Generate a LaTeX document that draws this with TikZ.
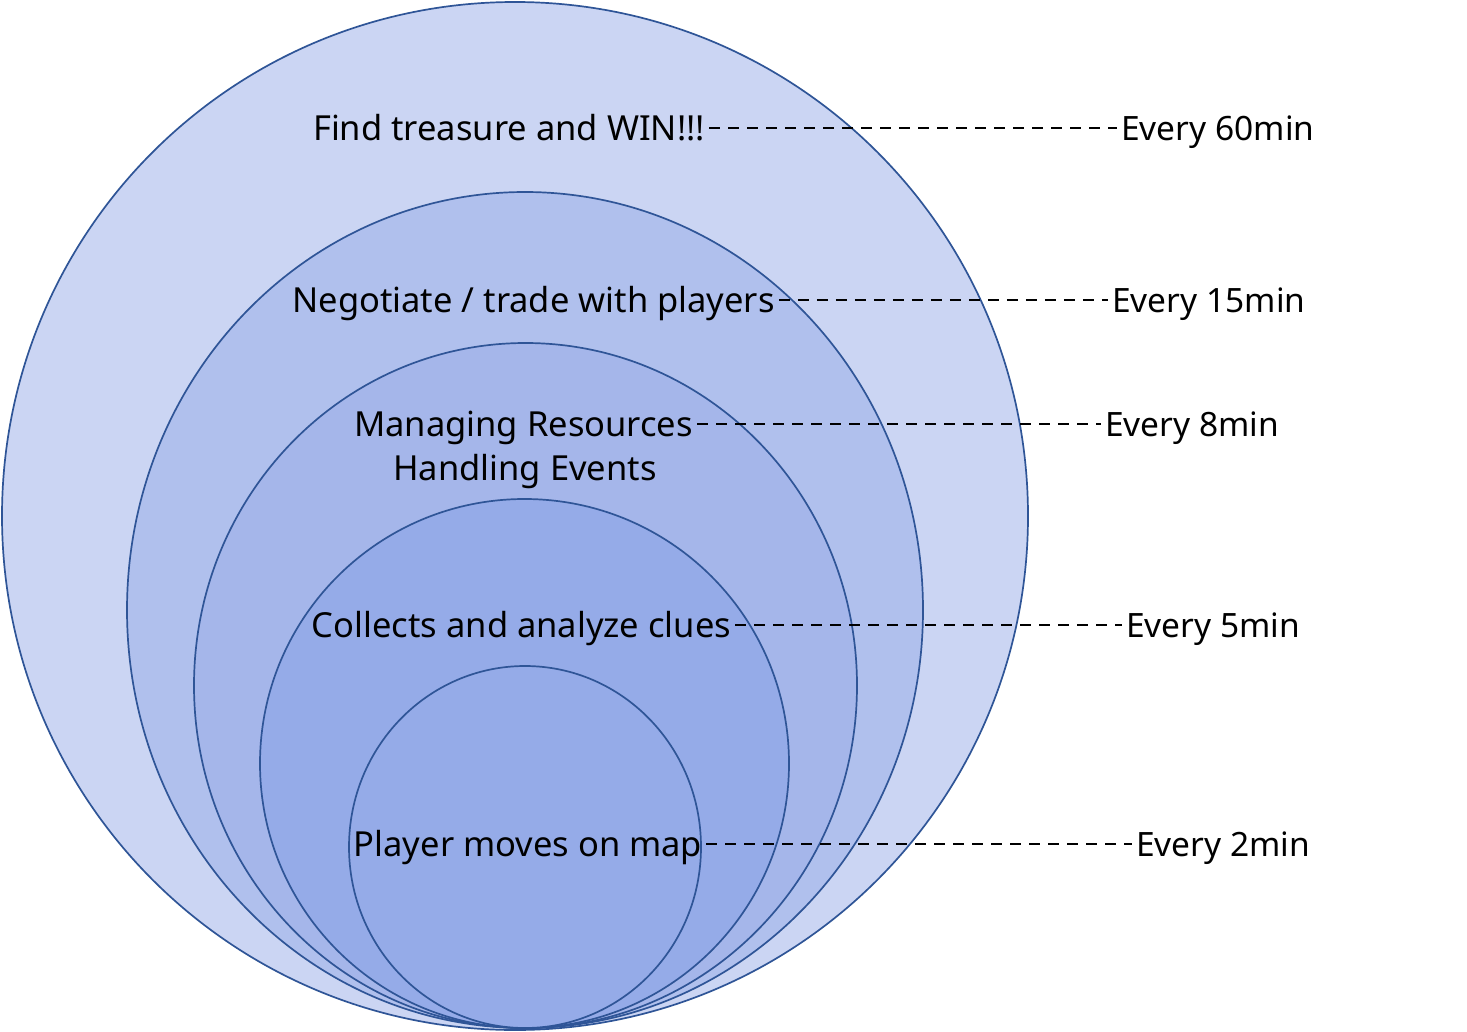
\documentclass[tikz,border=0pt]{standalone}
\usepackage{fontspec}
\setmainfont{Noto Sans}
\definecolor{ringblue}{HTML}{2F5597}
\definecolor{fillA}{HTML}{CBD5F3}
\definecolor{fillB}{HTML}{B0C0ED}
\definecolor{fillC}{HTML}{A5B6EA}
\definecolor{fillD}{HTML}{95ABE8}
\definecolor{fillE}{HTML}{95ABE8}
\begin{document}
\begin{tikzpicture}[x=1pt,y=-1pt,
  ring/.style={draw=ringblue, line width=1.7pt},
  lbl/.style={anchor=base, inner sep=0pt, font=\fontsize{34.5}{40}\selectfont},
  tlbl/.style={anchor=base west, inner sep=0pt, font=\fontsize{33.5}{40}\selectfont},
  dashline/.style={line width=2.4pt, dash pattern=on 11pt off 8pt, shorten <=4pt, shorten >=4pt}]
\useasboundingbox (0,0) rectangle (1467,1031);
\fill[white] (0,0) rectangle (1467,1031);
% rings
\filldraw[ring, fill=fillA] (515,516) ellipse [x radius=513pt, y radius=514pt];
\filldraw[ring, fill=fillB] (525,610) ellipse [x radius=398pt, y radius=418pt];
\filldraw[ring, fill=fillC] (525.5,685.5) ellipse [x radius=331.5pt, y radius=342.5pt];
\filldraw[ring, fill=fillD] (524.5,763.5) ellipse [x radius=264.5pt, y radius=264.5pt];
\filldraw[ring, fill=fillE] (525,847) ellipse [x radius=176pt, y radius=181pt];
% labels
\node[lbl] (l1) at (509,140) {Find treasure and WIN!!!};
\node[lbl] (l2) at (533.5,312) {Negotiate / trade with players};
\node[lbl] (l3) at (523.5,436) {Managing Resources};
\node[lbl] (l3b) at (525,480) {Handling Events};
\node[lbl] (l4) at (521.5,637) {Collects and analyze clues};
\node[lbl] (l5) at (528,856) {Player moves on map};
% times
\node[tlbl] (t1) at (1121,140) {Every 60min};
\node[tlbl] (t2) at (1112,312) {Every 15min};
\node[tlbl] (t3) at (1105,436) {Every 8min};
\node[tlbl] (t4) at (1126,637) {Every 5min};
\node[tlbl] (t5) at (1136,856) {Every 2min};
% connectors
\draw[dashline] ([yshift=12pt]l1.base east) -- ([yshift=12pt]t1.base west);
\draw[dashline] ([yshift=12pt]l2.base east) -- ([yshift=12pt]t2.base west);
\draw[dashline] ([yshift=12pt]l3.base east) -- ([yshift=12pt]t3.base west);
\draw[dashline] ([yshift=12pt]l4.base east) -- ([yshift=12pt]t4.base west);
\draw[dashline] ([yshift=12pt]l5.base east) -- ([yshift=12pt]t5.base west);
\end{tikzpicture}
\end{document}
